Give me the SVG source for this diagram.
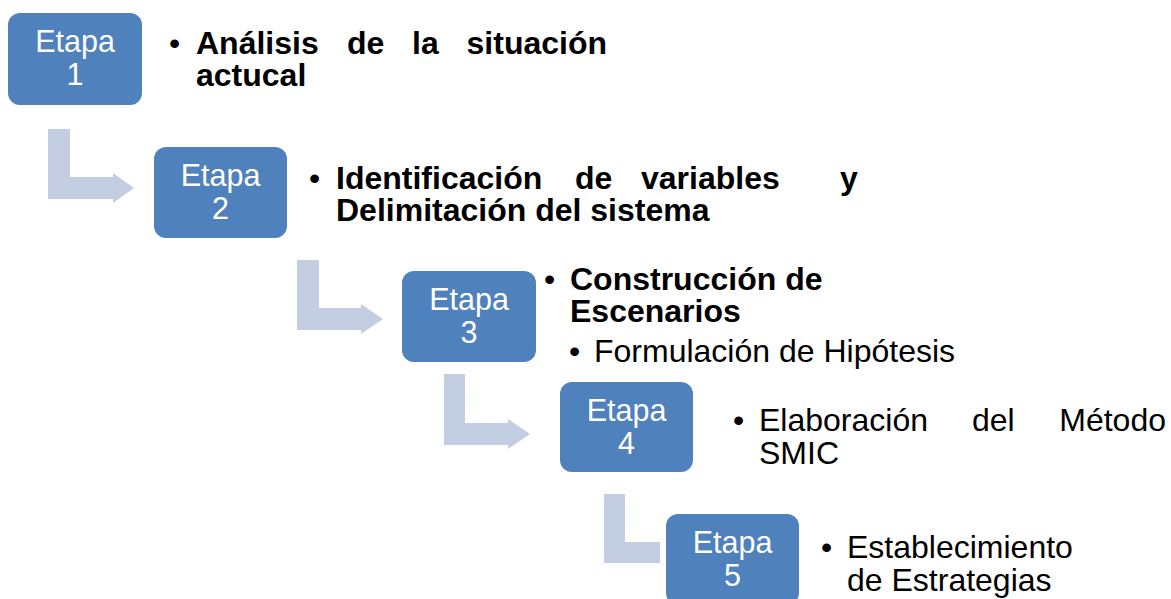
<svg xmlns="http://www.w3.org/2000/svg" width="1171" height="599" viewBox="0 0 1171 599">
<style>
.box{fill:#4F81BD;}
.arr{fill:#C3CEE3;}
.bt{font-family:"Liberation Sans",Arial,sans-serif;font-size:30.5px;fill:#FFFFFF;text-anchor:middle;}
.b{font-family:"Liberation Sans",Arial,sans-serif;font-size:32px;font-weight:bold;fill:#000000;}
.r{font-family:"Liberation Sans",Arial,sans-serif;font-size:32px;fill:#000000;}
</style>
<rect width="1171" height="599" fill="#FFFFFF"/>
<g id="connectors">
<path class="arr" d="M48,129 H70 V177 H113 V173 L134,188 L113,203 V199 H48 Z"/>
<path class="arr" d="M297,260 H319 V308 H361 V304 L383,319 L361,334 V330 H297 Z"/>
<path class="arr" d="M444,374 H465 V423 H508 V419 L530,434 L508,449 V445 H444 Z"/>
<path class="arr" d="M604,494 H625 V542 H660 V563 H604 Z"/>
</g>
<g id="etapa1">
<rect class="box" x="8" y="13" width="134" height="92" rx="12"/>
<text class="bt" x="75" y="52">Etapa</text>
<text class="bt" x="75" y="85">1</text>
</g>
<g id="etapa2">
<rect class="box" x="154" y="147" width="133" height="91" rx="12"/>
<text class="bt" x="220.5" y="186">Etapa</text>
<text class="bt" x="220.5" y="219">2</text>
</g>
<g id="etapa3">
<rect class="box" x="402" y="271" width="134" height="91" rx="12"/>
<text class="bt" x="469" y="310">Etapa</text>
<text class="bt" x="469" y="343">3</text>
</g>
<g id="etapa4">
<rect class="box" x="560" y="382" width="133" height="90" rx="12"/>
<text class="bt" x="626.5" y="421">Etapa</text>
<text class="bt" x="626.5" y="454">4</text>
</g>
<g id="etapa5">
<rect class="box" x="666" y="514" width="133" height="91" rx="12"/>
<text class="bt" x="732.5" y="553">Etapa</text>
<text class="bt" x="732.5" y="586">5</text>
</g>
<g id="texto1">
<text class="r" x="169" y="54">•</text>
<text class="b" x="196" y="54">Análisis</text>
<text class="b" x="347" y="54">de</text>
<text class="b" x="412" y="54">la</text>
<text class="b" x="607" y="54" text-anchor="end">situación</text>
<text class="b" x="196" y="86">actucal</text>
</g>
<g id="texto2">
<text class="r" x="309" y="189">•</text>
<text class="b" x="336" y="189">Identificación</text>
<text class="b" x="575" y="189">de</text>
<text class="b" x="641" y="189">variables</text>
<text class="b" x="840" y="189">y</text>
<text class="b" x="336" y="221">Delimitación del sistema</text>
</g>
<g id="texto3">
<text class="r" x="544" y="290">•</text>
<text class="b" x="570" y="290">Construcción de</text>
<text class="b" x="570" y="322">Escenarios</text>
<text class="r" x="569" y="362">•</text>
<text class="r" x="594" y="362">Formulación de Hipótesis</text>
</g>
<g id="texto4">
<text class="r" x="733" y="431">•</text>
<text class="r" x="759" y="431">Elaboración</text>
<text class="r" x="972" y="431">del</text>
<text class="r" x="1166" y="431" text-anchor="end">Método</text>
<text class="r" x="759" y="464">SMIC</text>
</g>
<g id="texto5">
<text class="r" x="821" y="558">•</text>
<text class="r" x="847" y="558">Establecimiento</text>
<text class="r" x="847" y="591">de Estrategias</text>
</g>
</svg>
